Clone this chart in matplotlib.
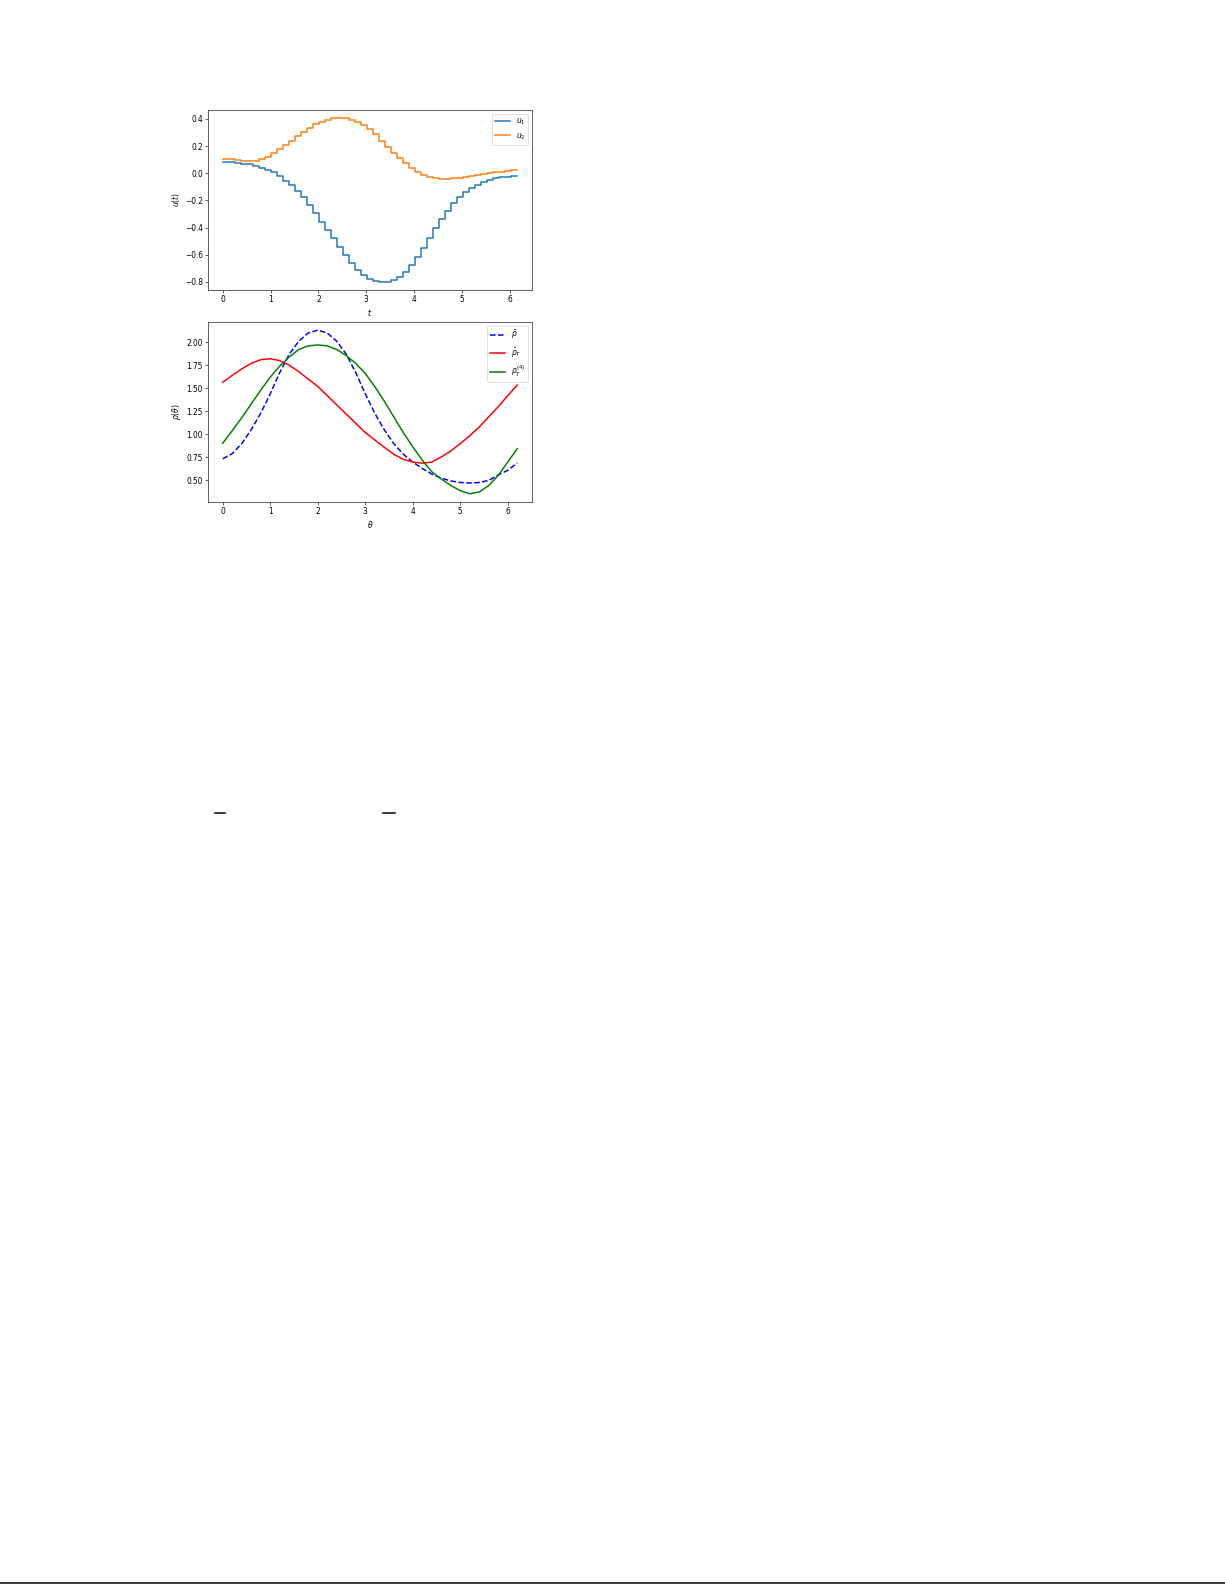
import numpy as np
import matplotlib
matplotlib.use("Agg")
import matplotlib.pyplot as plt
from matplotlib.lines import Line2D

# page is 1225x1585 px; dpi 54 keeps matplotlib defaults at the small scale of the page
DPI = 54

# top panel: piecewise constant controls on a grid of 50 steps over [0, 2pi)
n_steps = 50
t = np.arange(n_steps) * 2 * np.pi / n_steps
u1 = [0.083, 0.080, 0.077, 0.072, 0.066, 0.055, 0.042, 0.027, 0.007, -0.022,
      -0.054, -0.089, -0.133, -0.177, -0.236, -0.293, -0.355, -0.416, -0.478, -0.539,
      -0.600, -0.658, -0.712, -0.749, -0.775, -0.790, -0.799, -0.797, -0.785, -0.762,
      -0.725, -0.675, -0.615, -0.548, -0.477, -0.405, -0.338, -0.276, -0.222, -0.176,
      -0.138, -0.107, -0.083, -0.064, -0.049, -0.038, -0.030, -0.024, -0.020, -0.018]
u2 = [0.108, 0.104, 0.097, 0.091, 0.089, 0.092, 0.102, 0.123, 0.150, 0.177,
      0.207, 0.241, 0.273, 0.305, 0.335, 0.360, 0.379, 0.394, 0.404, 0.406,
      0.404, 0.394, 0.379, 0.355, 0.323, 0.286, 0.236, 0.192, 0.150, 0.113,
      0.076, 0.039, 0.010, -0.010, -0.027, -0.037, -0.042, -0.042, -0.037, -0.032,
      -0.025, -0.017, -0.010, -0.004, 0.002, 0.007, 0.012, 0.017, 0.021, 0.023]

# bottom panel: densities read at theta = 0, 0.2, ..., 6.2
theta = np.round(np.arange(0, 32) * 0.2, 1)
rho_bar = [0.735, 0.79, 0.90, 1.05, 1.23, 1.44, 1.67, 1.87, 2.01, 2.10,
           2.13, 2.10, 2.01, 1.87, 1.67, 1.44, 1.23, 1.05, 0.90, 0.785,
           0.70, 0.63, 0.57, 0.525, 0.495, 0.478, 0.472, 0.478, 0.50, 0.56,
           0.61, 0.69]
rho_hat = [1.565, 1.64, 1.71, 1.77, 1.81, 1.82, 1.80, 1.75, 1.68, 1.60,
           1.52, 1.42, 1.32, 1.22, 1.12, 1.02, 0.94, 0.86, 0.785, 0.73,
           0.70, 0.687, 0.70, 0.755, 0.82, 0.90, 0.985, 1.08, 1.19, 1.30,
           1.42, 1.535]
rho_4 = [0.903, 1.04, 1.18, 1.33, 1.48, 1.62, 1.74, 1.84, 1.92, 1.96,
         1.97, 1.96, 1.92, 1.855, 1.77, 1.66, 1.52, 1.36, 1.19, 1.02,
         0.865, 0.72, 0.595, 0.515, 0.445, 0.39, 0.355, 0.375, 0.445, 0.555,
         0.70, 0.845]

line_w = 2.0

fig = plt.figure(figsize=(1225 / DPI, 1585 / DPI), dpi=DPI)
fig.patch.set_facecolor("white")

ax1 = fig.add_axes([208 / 1225, 1 - 290 / 1585, 324 / 1225, 180 / 1585])
ax1.step(t, u1, where="post", lw=line_w, label="$u_1$")
ax1.step(t, u2, where="post", lw=line_w, label="$u_2$")
ax1.set_xlabel("$t$")
ax1.set_ylabel("$u(t)$")
ax1.legend(loc="upper right")

ax2 = fig.add_axes([208 / 1225, 1 - 502 / 1585, 324 / 1225, 180 / 1585])
ax2.plot(theta, rho_bar, "b--", lw=line_w, label=r"$\bar{\rho}$")
ax2.plot(theta, rho_hat, "r-", lw=line_w, label=r"$\hat{\rho}_T$")
ax2.plot(theta, rho_4, "g-", lw=line_w, label=r"$\rho_T^{(4)}$")
ax2.set_xlabel(r"$\theta$")
ax2.set_ylabel(r"$\rho(\theta)$")
ax2.legend(loc="upper right")

# stray page marks below the figure
lw = 1.5 * 72 / DPI
for x0, x1 in [(215, 225), (383, 395)]:
    fig.add_artist(Line2D([x0 / 1225, x1 / 1225], [1 - 813 / 1585] * 2,
                          color="black", lw=lw))
fig.add_artist(Line2D([0, 1], [1 - 1583 / 1585] * 2, color="black", lw=lw))

fig.savefig("out.png", dpi=DPI, facecolor="white")
